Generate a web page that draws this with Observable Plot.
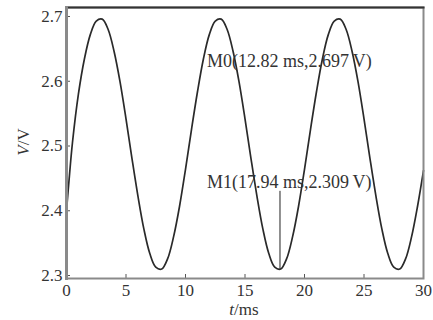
<!DOCTYPE html>
<html>
<head>
<meta charset="utf-8">
<script src="https://cdn.jsdelivr.net/npm/d3@7"></script>
<script src="https://cdn.jsdelivr.net/npm/@observablehq/plot@0.6"></script>
<style>
  html, body { margin: 0; padding: 0; background: #fff; }
  #chart svg { display: block; }
  #chart svg text { font-family: "Liberation Serif", "DejaVu Serif", serif !important; }
</style>
</head>
<body>
<div id="chart"></div>
<script>
// time in ms
const times = [0, 0.25, 0.5, 1, 1.5, 2, 2.5, 3, 3.5, 4, 4.5, 5, 5.5, 6, 6.5, 7, 7.5, 8, 8.5, 9, 9.5,
  10, 10.5, 11, 11.5, 12, 12.5, 13, 13.5, 14, 14.5, 15, 15.5, 16, 16.5, 17, 17.5, 18, 18.5, 19, 19.5,
  20, 20.5, 21, 21.5, 22, 22.5, 23, 23.5, 24, 24.5, 25, 25.5, 26, 26.5, 27, 27.5, 28, 28.5, 29, 29.5, 30];
// voltage in V
const volts = [2.400, 2.455, 2.505, 2.580, 2.634, 2.672, 2.693, 2.696, 2.680, 2.646, 2.599, 2.542, 2.481, 2.423, 2.372, 2.334, 2.313, 2.310, 2.326, 2.360, 2.407,
  2.464, 2.525, 2.583, 2.634, 2.672, 2.693, 2.696, 2.680, 2.646, 2.599, 2.542, 2.481, 2.423, 2.372, 2.334, 2.313, 2.310, 2.326, 2.360, 2.407,
  2.464, 2.525, 2.583, 2.634, 2.672, 2.693, 2.696, 2.680, 2.646, 2.599, 2.542, 2.481, 2.423, 2.372, 2.334, 2.313, 2.310, 2.326, 2.360, 2.407, 2.462];
const xTicks = [0, 5, 10, 15, 20, 25, 30];
const yTicks = [2.3, 2.4, 2.5, 2.6, 2.7];
const markerNames = ["M0", "M1"];
const markerT = [12.82, 17.94];
const markerV = [2.697, 2.309];

const series = times.map((t, i) => ({t, v: volts[i]}));
const markers = markerNames.map((n, i) => ({name: n, t: markerT[i], v: markerV[i],
  label: `${n}(${markerT[i].toFixed(2)} ms,${markerV[i].toFixed(3)}\u2009V)`}));

const font = "Liberation Serif";

const plot = Plot.plot({
  width: 433,
  height: 320,
  marginLeft: 66,
  marginRight: 10,
  marginTop: 7,
  marginBottom: 42,
  style: {fontFamily: font, fontSize: "17px", color: "#333", background: "#fff"},
  x: {domain: [0, 30]},
  y: {domain: [2.2954, 2.7139]},
  marks: [
    Plot.axisX({ticks: xTicks, tickSize: -4, tickPadding: 9, label: null, stroke: "#555", fill: "#333", fontSize: 17}),
    Plot.axisY({ticks: yTicks, tickSize: -4, tickPadding: 8, label: null, stroke: "#555", fill: "#333", fontSize: 17, tickFormat: d3.format(".1f")}),
    Plot.line(series, {x: "t", y: "v", stroke: "#2a2a2a", strokeWidth: 1.7, curve: "catmull-rom"}),
    Plot.ruleX([markers[1]], {x: "t", y1: "v", y2: 2.43, stroke: "#222", strokeWidth: 1}),
    Plot.text([markers[0]], {x: "t", y: "v", text: "label", textAnchor: "start", dx: -12, dy: 43, fill: "#333", fontSize: 18, ariaLabel: "ann"}),
    Plot.text([markers[1]], {x: "t", y: "v", text: "label", textAnchor: "start", dx: -73, dy: -87, fill: "#333", fontSize: 18, ariaLabel: "ann"}),
    Plot.frame({stroke: "#8a8a8a", strokeWidth: 2}),
    Plot.frame({anchor: "top", stroke: "#333", strokeWidth: 2}),
    Plot.frame({anchor: "left", stroke: "#8a8a8a", strokeWidth: 3})
  ]
});

document.getElementById("chart").appendChild(plot);
const svg = d3.select(plot);

// white boxes behind annotation labels
svg.selectAll('g[aria-label="ann"]').each(function() {
  const g = this;
  d3.select(g).selectAll("text").each(function() {
    const b = this.getBBox();
    const tr = this.getAttribute("transform");
    const r = document.createElementNS("http://www.w3.org/2000/svg", "rect");
    r.setAttribute("x", b.x - 2);
    r.setAttribute("y", b.y - 4);
    r.setAttribute("width", b.width + 4);
    r.setAttribute("height", b.height + 8);
    r.setAttribute("fill", "#fff");
    if (tr) r.setAttribute("transform", tr);
    g.insertBefore(r, this);
  });
});

// axis titles with italic symbols
const xt = svg.append("text")
  .attr("x", 244).attr("y", 315)
  .attr("text-anchor", "middle")
  .attr("font-size", 17).attr("fill", "#333");
xt.append("tspan").attr("font-style", "italic").text("t");
xt.append("tspan").text("/ms");

const yt = svg.append("text")
  .attr("transform", "translate(29,142) rotate(-90)")
  .attr("text-anchor", "middle")
  .attr("font-size", 17).attr("fill", "#333");
yt.append("tspan").attr("font-style", "italic").text("V");
yt.append("tspan").text("/V");
</script>
</body>
</html>
